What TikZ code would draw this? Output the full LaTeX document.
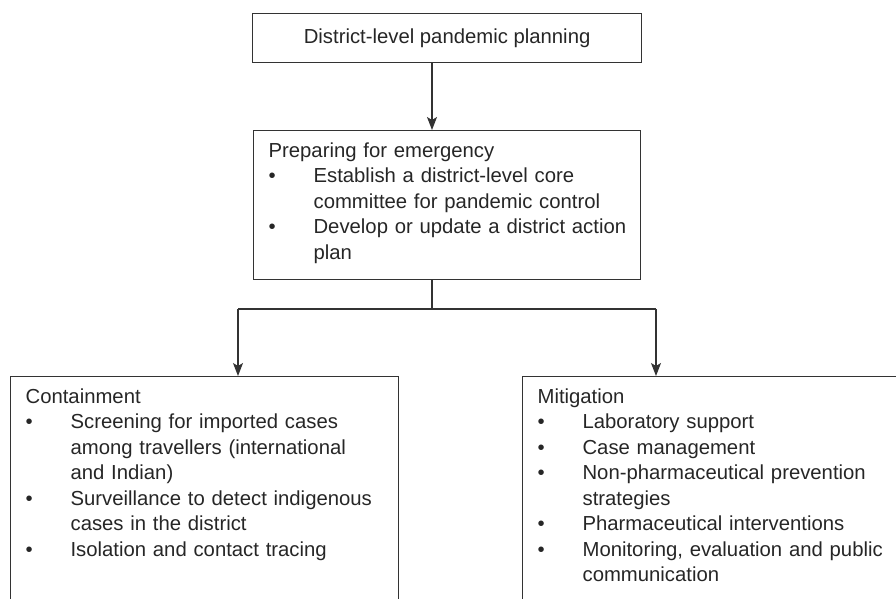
\documentclass[tikz,border=0pt]{standalone}
\usepackage{fontspec}
\setmainfont{Liberation Sans}
\usetikzlibrary{arrows.meta,positioning}

\newcommand{\itm}[1]{\mbox{\makebox[45pt][l]{\textbullet}#1}}
\newcommand{\cnt}[1]{\mbox{\hspace*{45pt}#1}}

\begin{document}
\begin{tikzpicture}[x=1pt, y=-1pt, >={Stealth[length=13pt,width=10pt,inset=3pt]},
  font=\fontsize{20.3pt}{25.5pt}\selectfont]

  \tikzstyle{box}=[draw=black!80, line width=1.2pt, text=black!85,
    inner xsep=15pt, inner ysep=12pt,
    anchor=north west, align=left]
  \tikzstyle{link}=[draw=black!80, line width=1.2pt]

  \useasboundingbox (0,0) rectangle (896,599);
  \clip (0,0) rectangle (896,599);

  \node [box, minimum width=389pt, minimum height=49pt, align=center, inner ysep=0pt]
    (plan) at (252,13) {District-level pandemic planning};

  \node [box, text width=357pt, text depth=110pt] (prep) at (253,130) {
Preparing for emergency\\
\itm{Establish a district-level core}\\
\cnt{committee for pandemic control}\\
\itm{Develop or update a district action}\\
\cnt{plan}};

  \node [box, text width=358pt, text depth=300pt] (cont) at (10,376) {
Containment\\
\itm{Screening for imported cases}\\
\cnt{among travellers (international}\\
\cnt{and Indian)}\\
\itm{Surveillance to detect indigenous}\\
\cnt{cases in the district}\\
\itm{Isolation and contact tracing}};

  \node [box, text width=358pt, text depth=300pt] (miti) at (522,376) {
Mitigation\\
\itm{Laboratory support}\\
\itm{Case management}\\
\itm{Non-pharmaceutical prevention}\\
\cnt{strategies}\\
\itm{Pharmaceutical interventions}\\
\itm{Monitoring, evaluation and public}\\
\cnt{communication}};

  \coordinate (fork) at (432,309);
  \coordinate (forkl) at (238,309);
  \coordinate (forkr) at (656,309);

  \draw [link, ->] (plan.south -| fork) -- (prep.north -| fork);
  \draw [link] (prep.south -| fork) -- (fork);
  \draw [link] (forkl) -- (forkr);
  \draw [link, ->] (forkl) -- (forkl |- cont.north);
  \draw [link, ->] (forkr) -- (forkr |- miti.north);

\end{tikzpicture}
\end{document}
